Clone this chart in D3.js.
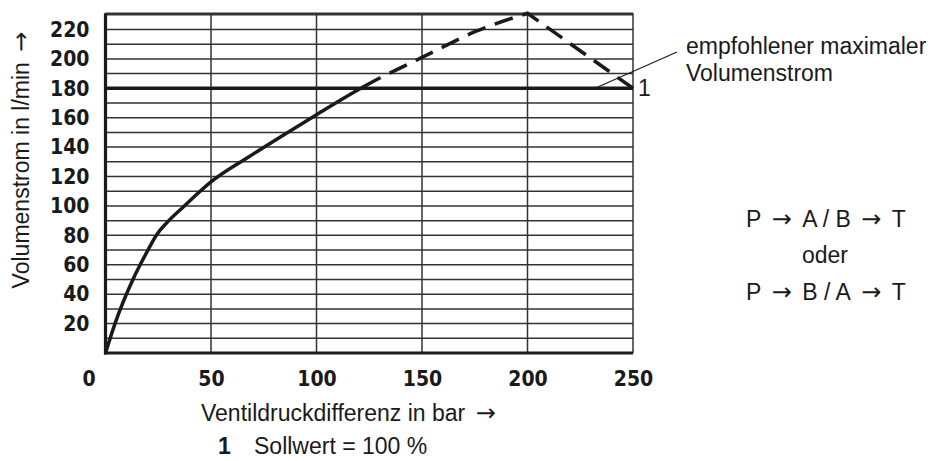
<!DOCTYPE html>
<html>
<head>
<meta charset="utf-8">
<script src="https://cdn.jsdelivr.net/npm/d3@7/dist/d3.min.js"></script>
<style>
  html, body { margin: 0; padding: 0; background: #fff; }
  svg { display: block; }
  .tick-lbl { font-family: "Liberation Sans Narrow", "Arial Narrow", "DejaVu Sans Condensed", sans-serif; font-weight: bold; font-size: 21px; fill: #1a1a1a; }
  .txt { font-family: "Liberation Sans", Arial, Helvetica, sans-serif; font-size: 23px; fill: #1a1a1a; }
  .arr { font-family: "DejaVu Sans", sans-serif; font-size: 24px; }
</style>
</head>
<body>
<script>
// Volumenstrom über Ventildruckdifferenz (Sollwert = 100 %)
const xTickValues = [0, 50, 100, 150, 200, 250];
const yTickValues = [20, 40, 60, 80, 100, 120, 140, 160, 180, 200, 220];
const yGridValues = d3.range(10, 231, 10);
const xGridValues = [50, 100, 150, 200];

// Kennlinie, durchgezogener Teil (bar, l/min)
const solidDp   = [0, 4.5, 13, 19, 24.5, 29, 37, 51, 68, 85, 100, 121, 130];
const solidFlow = [0, 20, 50, 67, 81, 88.5, 99.5, 117.5, 133.5, 148.8, 162, 180, 187];
// Kennlinie, gestrichelter Teil
const dashRiseDp   = [130, 150, 176, 200];
const dashRiseFlow = [187, 201, 219, 231];
const dashFallDp   = [200, 250];
const dashFallFlow = [231, 180];
// empfohlener maximaler Volumenstrom
const maxFlow = 180;

const W = 947, H = 461;
const svg = d3.select("body").append("svg").attr("width", W).attr("height", H);

const x = d3.scaleLinear().domain([0, 250]).range([105.5, 633]);
const y = d3.scaleLinear().domain([0, 231]).range([353, 13.3]);

const ink = "#1a1a1a";

// Text mit Pfeilen (Pfeilzeichen aus DejaVu Sans, mit etwas Luft davor und danach)
function label(sel, str) {
  let afterArrow = false;
  str.split(/(→)/).forEach(part => {
    if (!part) return;
    const t = sel.append("tspan").text(part.replace(/^ | $/g, "\u00A0"));
    if (part === "→") { t.attr("class", "arr").attr("dx", 4); afterArrow = true; }
    else if (afterArrow) { t.attr("dx", 4); afterArrow = false; }
  });
  return sel;
}

// Raster
svg.append("g").selectAll("line").data(yGridValues).join("line")
  .attr("x1", x(0)).attr("x2", x(250))
  .attr("y1", d => y(d)).attr("y2", d => y(d))
  .attr("stroke", "#333").attr("stroke-width", 1.5);
svg.append("g").selectAll("line").data(xGridValues).join("line")
  .attr("x1", d => x(d)).attr("x2", d => x(d))
  .attr("y1", y(0)).attr("y2", y(231))
  .attr("stroke", "#333").attr("stroke-width", 1.5);

// Rahmen: oben/rechts dünn, links/unten kräftig
svg.append("line").attr("x1", x(0)).attr("x2", x(250)).attr("y1", y(231)).attr("y2", y(231))
  .attr("stroke", "#333").attr("stroke-width", 1.5);
svg.append("line").attr("x1", x(250)).attr("x2", x(250)).attr("y1", y(0)).attr("y2", y(231))
  .attr("stroke", "#333").attr("stroke-width", 1.5);
svg.append("line").attr("x1", x(0)).attr("x2", x(0)).attr("y1", y(0) + 1.5).attr("y2", y(231))
  .attr("stroke", ink).attr("stroke-width", 3.2);
svg.append("line").attr("x1", x(0) - 1.5).attr("x2", x(250)).attr("y1", y(0)).attr("y2", y(0))
  .attr("stroke", ink).attr("stroke-width", 3.2);

// Achsenbeschriftungen
const gy = svg.append("g").attr("transform", `translate(${x(0)},0)`)
  .call(d3.axisLeft(y).tickValues(yTickValues).tickSize(0).tickPadding(16));
gy.select(".domain").remove();
gy.selectAll("text").attr("class", "tick-lbl").attr("font-size", null).attr("font-family", null);

const gx = svg.append("g").attr("transform", `translate(0,${y(0)})`)
  .call(d3.axisBottom(x).tickValues(xTickValues).tickSize(0).tickPadding(18));
gx.select(".domain").remove();
gx.selectAll("text").attr("class", "tick-lbl").attr("font-size", null).attr("font-family", null);
gx.selectAll(".tick").filter(d => d === 0).select("text").attr("dx", -17);

// Linie für den empfohlenen maximalen Volumenstrom
svg.append("line").attr("x1", x(0)).attr("x2", x(250))
  .attr("y1", y(maxFlow)).attr("y2", y(maxFlow))
  .attr("stroke", ink).attr("stroke-width", 3.5);

// Kennlinie
const curve = d3.line().x(d => x(d[0])).y(d => y(d[1])).curve(d3.curveMonotoneX);
svg.append("path").attr("d", curve(d3.zip(solidDp, solidFlow)))
  .attr("fill", "none").attr("stroke", ink).attr("stroke-width", 3.5)
  .attr("stroke-linejoin", "round");

const rise = curve(d3.zip(dashRiseDp, dashRiseFlow));
const fall = d3.line().x(d => x(d[0])).y(d => y(d[1]))(d3.zip(dashFallDp, dashFallFlow));
svg.append("path").attr("d", rise + "L" + fall.slice(1).split("L")[1])
  .attr("fill", "none").attr("stroke", ink).attr("stroke-width", 3.5)
  .attr("stroke-dasharray", "19,10").attr("stroke-dashoffset", -11);

// Hinweislinie und Beschriftung
svg.append("line").attr("x1", x(232)).attr("y1", y(maxFlow))
  .attr("x2", 677).attr("y2", 52)
  .attr("stroke", ink).attr("stroke-width", 1.1);
svg.append("text").attr("class", "txt").attr("x", 686).attr("y", 54).text("empfohlener maximaler");
svg.append("text").attr("class", "txt").attr("x", 686).attr("y", 81).text("Volumenstrom");
svg.append("text").attr("class", "txt").attr("x", x(250) + 5).attr("y", y(maxFlow) + 8).text("1");

// Durchflussrichtungen
label(svg.append("text").attr("class", "txt").attr("x", 826).attr("y", 227).attr("text-anchor", "middle"), "P → A / B → T");
svg.append("text").attr("class", "txt").attr("x", 825).attr("y", 263).attr("text-anchor", "middle").text("oder");
label(svg.append("text").attr("class", "txt").attr("x", 826).attr("y", 300).attr("text-anchor", "middle"), "P → B / A → T");

// Achsentitel
label(svg.append("text").attr("class", "txt")
  .attr("transform", "translate(29,160) rotate(-90)")
  .attr("text-anchor", "middle"), "Volumenstrom in l/min →");
label(svg.append("text").attr("class", "txt").attr("x", 201).attr("y", 421), "Ventildruckdifferenz in bar →");

// Legende
svg.append("text").attr("class", "txt").attr("x", 218).attr("y", 454)
  .attr("font-weight", "bold").text("1");
svg.append("text").attr("class", "txt").attr("x", 254).attr("y", 454).text("Sollwert = 100 %");
</script>
</body>
</html>
